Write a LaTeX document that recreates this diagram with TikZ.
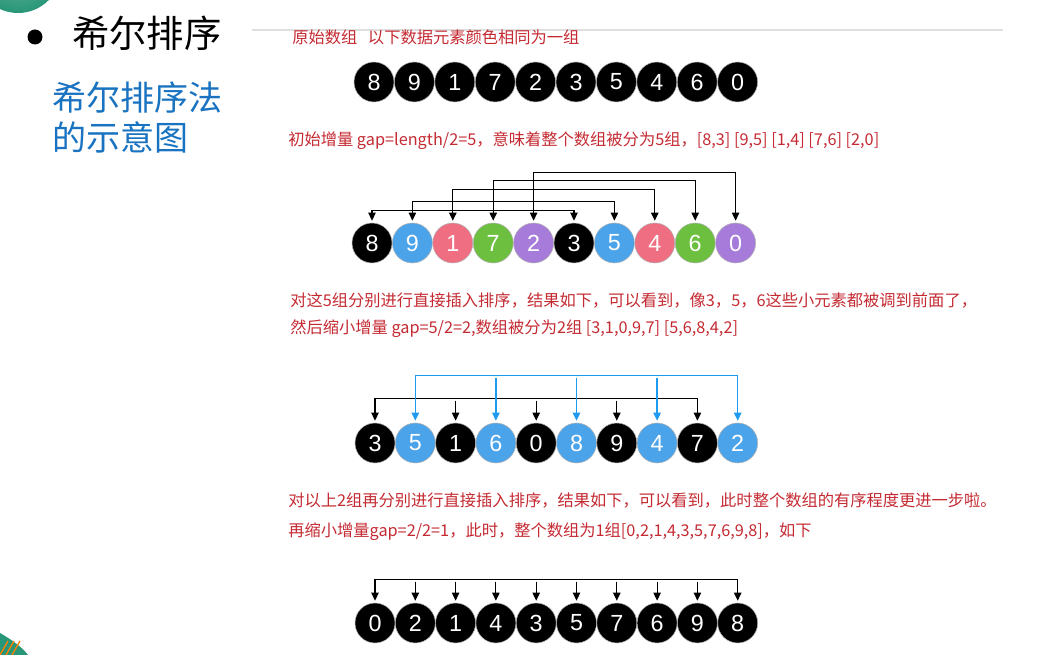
\documentclass[tikz,border=0pt]{standalone}
\usepackage{fontspec}
\setmainfont{Liberation Sans}
\newfontfamily\cjk{Noto Sans CJK SC}
\usetikzlibrary{arrows.meta}

\definecolor{noteRed}{RGB}{196,42,50}
\definecolor{titleBlue}{RGB}{25,115,192}
\definecolor{ballBlue}{RGB}{75,163,234}
\definecolor{ballPink}{RGB}{240,110,130}
\definecolor{ballGreen}{RGB}{108,191,63}
\definecolor{ballPurple}{RGB}{166,123,217}
\definecolor{linkBlue}{RGB}{30,155,240}
\definecolor{deco}{RGB}{40,150,120}

\tikzset{
    ball/.style={circle, draw=gray!60, line width=0.4pt, minimum size=30pt, inner sep=0pt,
        text=white, font=\fontsize{17.5}{17.5}\selectfont},
    note/.style={anchor=west, inner sep=0pt, text=noteRed, font=\cjk\fontsize{12.2}{14}\selectfont},
    link/.style={line width=0.85pt, shorten <=1.5pt, shorten >=1.5pt},
}

\begin{document}
\begin{tikzpicture}[x=0.75pt, y=-0.75pt, >={Triangle[width=5.5pt,length=6pt]}]
    \useasboundingbox (0,0) rectangle (1049,655);

    \shade [inner color=deco!70, outer color=deco] (18,-30) circle (43);
    \fill [deco] (0,633) .. controls (12,640) and (22,647) .. (28,655) -- (0,655) -- cycle;
    \foreach \s in {0,6,12} {
        \draw [orange, line width=1pt] (\s,655) -- (\s+8,641);
        }
    \draw [gray!25, line width=1pt] (252,30) -- (1003,30);

    \fill (35,37) circle (7.5);
    \node [anchor=west, inner sep=0pt, font=\cjk\fontsize{28}{30}\selectfont] (title) at (72,33) {希尔排序};
    \node [anchor=west, inner sep=0pt, align=left, text=titleBlue,
        font=\cjk\fontsize{25.5}{30}\selectfont] (subtitle) at (52,117) {希尔排序法\\的示意图};

    \node [note] (n1) at (292,37) {原始数组\hspace{8pt}以下数据元素颜色相同为一组};
    \node [note] (n2) at (288,141) {初始增量 gap=length/2=5，意味着整个数组被分为5组，[8,3] [9,5] [1,4] [7,6] [2,0]};
    \node [note] (n3) at (290,300) {对这5组分别进行直接插入排序，结果如下，可以看到，像3，5，6这些小元素都被调到前面了，};
    \node [note] (n4) at (290,329) {然后缩小增量 gap=5/2=2,数组被分为2组 [3,1,0,9,7] [5,6,8,4,2]};
    \node [note] (n5) at (288,500) {对以上2组再分别进行直接插入排序，结果如下，可以看到，此时整个数组的有序程度更进一步啦。};
    \node [note] (n6) at (288,532) {再缩小增量gap=2/2=1，此时，整个数组为1组[0,2,1,4,3,5,7,6,9,8]，如下};

    % original array
    \foreach \v [count=\i] in {8,9,1,7,2,3,5,4,6,0} {
        \node [ball, fill=black] (a\i) at ({374+40.4*(\i-1)},82) {\v};
        }

    % gap 5
    \foreach \v/\c [count=\i] in {8/black,9/ballBlue,1/ballPink,7/ballGreen,2/ballPurple,
                                  3/black,5/ballBlue,4/ballPink,6/ballGreen,0/ballPurple} {
        \node [ball, fill=\c] (b\i) at ({372+40.4*(\i-1)},243) {\v};
        }
    \foreach \i/\h in {1/12,2/21,3/33,4/42,5/50} {
        \pgfmathtruncatemacro\j{\i+5}
        \draw [link, <->] (b\i.north) -- ++(0,-\h) -| (b\j.north);
        }

    % gap 2
    \foreach \v/\c [count=\i] in {3/black,5/ballBlue,1/black,6/ballBlue,0/black,
                                  8/ballBlue,9/black,4/ballBlue,7/black,2/ballBlue} {
        \node [ball, fill=\c] (c\i) at ({375+40.3*(\i-1)},443) {\v};
        }
    \path (c1.north) ++(0,-24) coordinate (odd);
    \path (c2.north) ++(0,-47) coordinate (even);
    \draw [link, <->] (c1.north) -- (odd) -| (c9.north);
    \foreach \i in {3,5,7} {
        \draw [link, ->] (odd -| c\i.north) -- (c\i.north);
        }
    \draw [link, <->, linkBlue, line width=1.1pt] (c2.north) -- (even) -| (c10.north);
    \foreach \i in {4,6,8} {
        \draw [link, ->, linkBlue, line width=1.1pt] (even -| c\i.north) -- (c\i.north);
        }

    % gap 1
    \foreach \v [count=\i] in {0,2,1,4,3,5,7,6,9,8} {
        \node [ball, fill=black] (d\i) at ({375+40.3*(\i-1)},623) {\v};
        }
    \path (d1.north) ++(0,-23) coordinate (all);
    \draw [link, <->] (d1.north) -- (all) -| (d10.north);
    \foreach \i in {2,...,9} {
        \draw [link, ->] (all -| d\i.north) -- (d\i.north);
        }
\end{tikzpicture}
\end{document}
